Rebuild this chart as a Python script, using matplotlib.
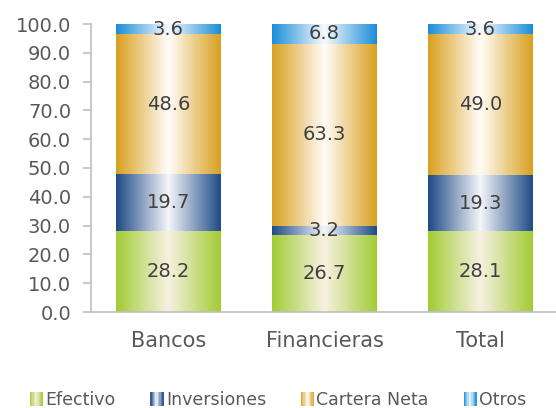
import numpy as np
import matplotlib.pyplot as plt
from matplotlib.colors import LinearSegmentedColormap
from matplotlib.legend_handler import HandlerBase
from matplotlib.patches import Rectangle

categories = ['Bancos', 'Financieras', 'Total']
efectivo = [28.2, 26.7, 28.1]
inversiones = [19.7, 3.2, 19.3]
cartera = [48.6, 63.3, 49.0]
otros = [3.6, 6.8, 3.6]

series = ['Efectivo', 'Inversiones', 'Cartera Neta', 'Otros']
values = [efectivo, inversiones, cartera, otros]
# (center color, edge color) for the horizontal gradient fill
grads = [('#f7f1e1', '#a2cc35'),
         ('#f4f5f9', '#1f4b86'),
         ('#fffcf7', '#d9a020'),
         ('#f7fafd', '#1a8ed9')]

txt = '#404040'
tick_txt = '#595959'
plt.rcParams['font.family'] = 'DejaVu Sans'

cmaps = [LinearSegmentedColormap.from_list('g%d' % i, [c, e]) for i, (c, e) in enumerate(grads)]
ramp = np.abs(np.linspace(-1, 1, 256)).reshape(1, -1)


class GradHandler(HandlerBase):
    def create_artists(self, legend, orig_handle, xdescent, ydescent, width, height, fontsize, trans):
        cm = orig_handle.cmap
        n = 10
        arts = []
        for i in range(n):
            t = abs(2 * (i + 0.5) / n - 1)
            arts.append(Rectangle((-xdescent + i * width / n, -ydescent), width / n + 0.3, height,
                                  facecolor=cm(t), edgecolor='none', transform=trans))
        return arts


class Proxy:
    def __init__(self, cmap):
        self.cmap = cmap


fig = plt.figure(figsize=(5.56, 4.08), dpi=100)
ax = fig.add_axes([90.5 / 556, 1 - 312 / 408, 468 / 556, 288 / 408])

x = np.arange(len(categories))
width = 0.67
bottom = np.zeros(len(categories))
for vals, cm in zip(values, cmaps):
    bars = ax.bar(x, vals, width, bottom=bottom, color='none', edgecolor='none')
    for p in bars:
        ax.imshow(ramp, cmap=cm, aspect='auto', interpolation='bilinear',
                  extent=[p.get_x(), p.get_x() + p.get_width(), p.get_y(), p.get_y() + p.get_height()],
                  zorder=1)
    ax.bar_label(bars, labels=['%.1f' % v for v in vals], label_type='center',
                 fontsize=14, color=txt)
    bottom += np.array(vals)

ax.set_xlim(-0.5, 2.5)
ax.set_ylim(0, 100)
ax.set_yticks(np.arange(0, 101, 10))
ax.set_yticklabels(['%.1f' % v for v in np.arange(0, 101, 10)])
ax.set_xticks(x)
ax.set_xticklabels(categories)
ax.tick_params(axis='y', colors='#bfbfbf', labelcolor=tick_txt, labelsize=14, length=6, width=1.2, pad=8)
ax.tick_params(axis='x', length=0, labelcolor=tick_txt, labelsize=15, pad=14)
for s in ['top', 'right']:
    ax.spines[s].set_visible(False)
ax.spines['left'].set_color('#bfbfbf')
ax.spines['bottom'].set_color('#bfbfbf')
ax.spines['left'].set_linewidth(1.2)
ax.spines['bottom'].set_linewidth(1.2)

handles = [Proxy(cm) for cm in cmaps]
fig.legend(handles, series, handler_map={Proxy: GradHandler()},
           loc='lower center', bbox_to_anchor=(0.5, -0.04), ncol=4, frameon=False,
           fontsize=12.5, labelcolor=tick_txt, handlelength=0.75, handleheight=0.9,
           handletextpad=0.15, columnspacing=2.0)

fig.savefig('out.png', dpi=100)
